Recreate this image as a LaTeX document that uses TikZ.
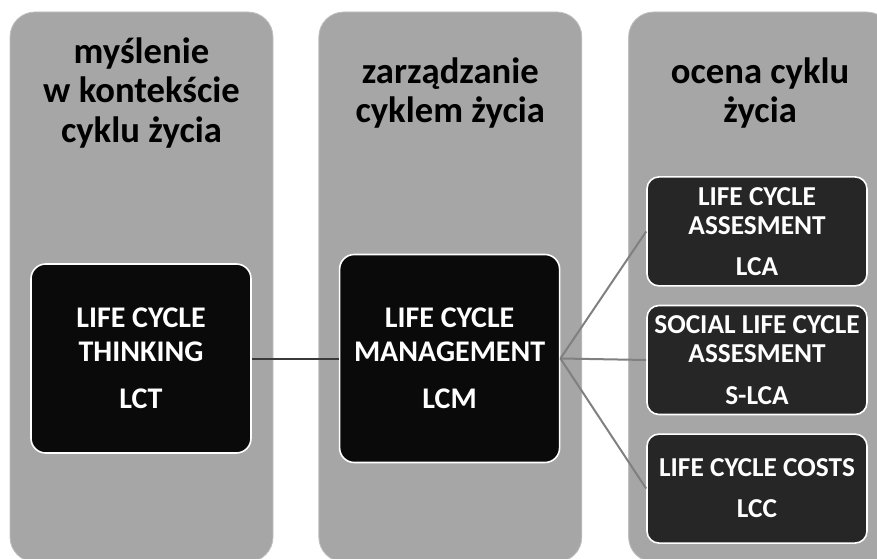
\documentclass[tikz,border=0pt]{standalone}
\usepackage{fontspec}
\setmainfont{Carlito}
\usetikzlibrary{positioning}
\definecolor{cColumn}{RGB}{166,166,166}
\definecolor{cColumnEdge}{RGB}{192,192,192}
\definecolor{cMain}{RGB}{10,10,10}
\definecolor{cSub}{RGB}{38,38,38}
\definecolor{cLink}{RGB}{58,58,58}
\definecolor{cFan}{RGB}{128,128,128}
\tikzset{
    column/.style ={rectangle, rounded corners=18.75pt, minimum width=197.25pt, minimum height=412.5pt, inner sep=0pt, draw=cColumnEdge, line width=0.6pt, fill=cColumn},
    title/.style  ={align=center, text=black, font=\fontsize{27.5}{29.5}\selectfont\bfseries},
    mainbox/.style={rectangle, rounded corners=11pt, minimum width=165pt, inner sep=1pt, text centered, align=center, draw=white, line width=1.2pt, fill=cMain, text=white, font=\fontsize{22.5}{25}\selectfont\bfseries},
    subbox/.style ={rectangle, rounded corners=9pt, minimum width=165pt, minimum height=81.75pt, inner sep=1pt, text centered, align=center, draw=white, line width=1.2pt, fill=cSub, text=white, font=\fontsize{20.5}{21.75}\selectfont\bfseries},
    link/.style   ={draw=cLink, line width=1.5pt},
    fan/.style    ={draw=cFan, line width=1.5pt},
}
\begin{document}
\begin{tikzpicture}[x=0.75pt, y=-0.75pt, node distance=33.75pt]
        \clip (0,0) rectangle (877,559);
        \node[column] (colA) at (141.5,287) {};
        \node[column, right=33.75pt of colA] (colB) {};
        \node[column, right=34.5pt of colB] (colC) {};
        \coordinate (titleY) at (0,93);
        \node[title] (tA) at (colA |- titleY) {myślenie\\w kontekście\\cyklu życia};
        \node[title] (tB) at (colB |- titleY) {zarządzanie\\cyklem życia};
        \node[title] (tC) at (colC |- titleY) {ocena cyklu\\życia};
        \node[mainbox, minimum height=141.75pt] (lct) at (141,358.5) {LIFE CYCLE\\THINKING\\[10.5pt]LCT};
        \node[mainbox, minimum height=156pt, right=65.25pt of lct] (lcm) {LIFE CYCLE\\MANAGEMENT\\[10.5pt]LCM};
        \node[subbox] (slca) at (757,360) {SOCIAL LIFE CYCLE\\ASSESMENT\\[10pt]S-LCA};
        \node[subbox, above=13.5pt of slca] (lca) {LIFE CYCLE\\ASSESMENT\\[9pt]LCA};
        \node[subbox, below=13.5pt of slca] (lcc) {LIFE CYCLE COSTS\\[9pt]LCC};
        \draw[link] (lct) -- (lcm);
        \draw[fan] (lcm.east) -- (lca.west);
        \draw[fan] (lcm.east) -- (slca.west);
        \draw[fan] (lcm.east) -- (lcc.west);
    \end{tikzpicture}
\end{document}
